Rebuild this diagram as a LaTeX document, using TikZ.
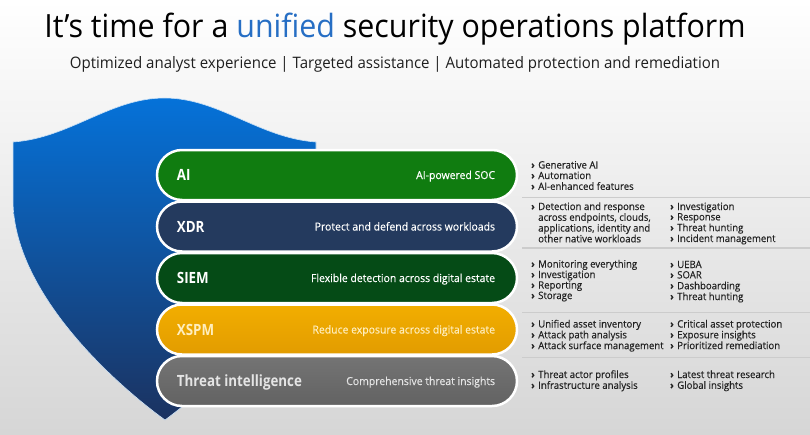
\documentclass[tikz,border=0pt]{standalone}
\usepackage{fontspec}
\setmainfont{Open Sans}[FakeStretch=0.95]
\newfontfamily\labelfont{Open Sans}[FakeStretch=0.86]
\newfontfamily\descfont{Open Sans}[FakeStretch=0.95, FakeBold=0.25]
\newfontfamily\listfont{Open Sans}[FakeStretch=0.95, FakeBold=0.3]
\usetikzlibrary{calc}

\definecolor{aigreen}{RGB}{16,124,16}
\definecolor{xdrblue}{RGB}{36,58,94}
\definecolor{siemgreen}{RGB}{5,75,22}
\definecolor{xspmtop}{RGB}{242,174,0}
\definecolor{xspmbot}{RGB}{226,156,0}
\definecolor{xspmtext}{RGB}{255,238,190}
\definecolor{titop}{RGB}{116,116,116}
\definecolor{tibot}{RGB}{98,98,98}
\definecolor{titext}{RGB}{228,228,228}
\definecolor{unifiedblue}{RGB}{38,110,196}
\definecolor{shieldtop}{RGB}{5,114,217}
\definecolor{shieldmid}{RGB}{16,96,192}
\definecolor{shieldbot}{RGB}{27,50,96}
\definecolor{bgbot}{RGB}{214,214,214}
\definecolor{sepline}{RGB}{204,204,204}
\definecolor{listtext}{RGB}{34,34,34}

\newcommand{\chev}{\textbf{›}}

\tikzset{
  bar/.style={draw=white, line width=2.5pt, rounded corners=25pt,
    minimum width=360pt, minimum height=50pt, inner sep=0pt},
  barlabel/.style={anchor=base west, inner sep=0pt, text=white,
    font=\labelfont\fontsize{15.5}{18}\selectfont\bfseries},
  bardesc/.style={anchor=base east, inner sep=0pt, text=white,
    font=\descfont\fontsize{11}{13}\selectfont},
  itemlist/.style={anchor=base west, inner sep=0pt, text=listtext,
    font=\listfont\fontsize{10.1}{10.4}\selectfont},
  sep/.style={draw=sepline, line width=1.8pt},
}

\newenvironment{bullets}{\begin{tabular}[t]{@{}l@{\hspace{3.5pt}}l@{}}}{\end{tabular}}

\begin{document}
\begin{tikzpicture}[x=1pt,y=-1pt]
  \useasboundingbox (0,0) rectangle (810,434);
  % backdrop: white fading to light grey towards the bottom
  \fill[top color=white, middle color=white, bottom color=bgbot] (0,0) rectangle (810,434);

  % headings
  \node[anchor=base, inner sep=0pt, font=\fontsize{32}{36}\selectfont] (title) at (395,37)
    {It’s time for a \textcolor{unifiedblue}{unified} security operations platform};
  \node[anchor=base, inner sep=0pt, text=black!88, font=\fontsize{15.8}{18}\selectfont] (subtitle) at (395,68)
    {Optimized analyst experience | Targeted assistance | Automated protection and remediation};

  % shield
  \shade[top color=shieldtop, middle color=shieldmid, bottom color=shieldbot,
         draw=white!80!shieldtop, line width=0.6pt]
    (13,142) .. controls (70,138) and (110,98) .. (164.5,98)
    .. controls (219,98) and (259,138) .. (316,142)
    -- (316,200) .. controls (316,290) and (219,380) .. (165,420)
    .. controls (110,380) and (13,290) .. (13,200) -- cycle;

  % layer bars
  \node[bar, fill=aigreen]   (ai)   at (337,175)   {};
  \node[bar, fill=xdrblue]   (xdr)  at (337,226.5) {};
  \node[bar, fill=siemgreen] (siem) at (337,278)   {};
  \node[bar, top color=xspmtop, bottom color=xspmbot] (xspm) at (337,329.5) {};
  \node[bar, top color=titop, bottom color=tibot]     (ti)   at (337,381)   {};

  \node[barlabel] (ailbl)   at ($(ai.west)+(21,5.5)$)   {AI};
  \node[barlabel] (xdrlbl)  at ($(xdr.west)+(21,5.5)$)  {XDR};
  \node[barlabel] (siemlbl) at ($(siem.west)+(21,5.5)$) {SIEM};
  \node[barlabel, text=xspmtext] (xspmlbl) at ($(xspm.west)+(21,5.5)$) {XSPM};
  \node[barlabel, text=titext]   (tilbl)   at ($(ti.west)+(21,5.5)$)   {Threat intelligence};

  \node[bardesc] (aidesc)   at ($(ai.east)+(-23,4)$)   {AI-powered SOC};
  \node[bardesc] (xdrdesc)  at ($(xdr.east)+(-23,4)$)  {Protect and defend across workloads};
  \node[bardesc] (siemdesc) at ($(siem.east)+(-23,4)$) {Flexible detection across digital estate};
  \node[bardesc, text=xspmtext] (xspmdesc) at ($(xspm.east)+(-23,4)$) {Reduce exposure across digital estate};
  \node[bardesc, text=titext]   (tidesc)   at ($(ti.east)+(-23,4)$)   {Comprehensive threat insights};

  % separators between the capability rows
  \coordinate (s1a) at (522,197.5); \coordinate (s1b) at (810,197.5);
  \coordinate (s2a) at (522,248);   \coordinate (s2b) at (810,248);
  \coordinate (s3a) at (522,312.5); \coordinate (s3b) at (810,312.5);
  \coordinate (s4a) at (522,357.5); \coordinate (s4b) at (810,357.5);
  \draw[sep] (s1a) -- (s1b);
  \draw[sep] (s2a) -- (s2b);
  \draw[sep] (s3a) -- (s3b);
  \draw[sep] (s4a) -- (s4b);

  % capability lists
  \node[itemlist] (ailist) at (531,168.5) {\begin{bullets}
    \chev & Generative AI\\ \chev & Automation\\ \chev & AI-enhanced features\end{bullets}};

  \node[itemlist] (xdrlist1) at (531,210) {\begin{bullets}
    \chev & Detection and response\\ & across endpoints, clouds,\\
    & applications, identity and\\ & other native workloads\end{bullets}};
  \node[itemlist] (xdrlist2) at (670,210) {\begin{bullets}
    \chev & Investigation\\ \chev & Response\\ \chev & Threat hunting\\
    \chev & Incident management\end{bullets}};

  \node[itemlist] (siemlist1) at (531,267.5) {\begin{bullets}
    \chev & Monitoring everything\\ \chev & Investigation\\ \chev & Reporting\\
    \chev & Storage\end{bullets}};
  \node[itemlist] (siemlist2) at (670,268) {\begin{bullets}
    \chev & UEBA\\ \chev & SOAR\\ \chev & Dashboarding\\
    \chev & Threat hunting\end{bullets}};

  \node[itemlist] (xspmlist1) at (531,327.5) {\begin{bullets}
    \chev & Unified asset inventory\\ \chev & Attack path analysis\\
    \chev & Attack surface management\end{bullets}};
  \node[itemlist] (xspmlist2) at (670,327.5) {\begin{bullets}
    \chev & Critical asset protection\\ \chev & Exposure insights\\
    \chev & Prioritized remediation\end{bullets}};

  \node[itemlist] (tilist1) at (531,378) {\begin{bullets}
    \chev & Threat actor profiles\\ \chev & Infrastructure analysis\end{bullets}};
  \node[itemlist] (tilist2) at (670,378) {\begin{bullets}
    \chev & Latest threat research\\ \chev & Global insights\end{bullets}};
\end{tikzpicture}
\end{document}
